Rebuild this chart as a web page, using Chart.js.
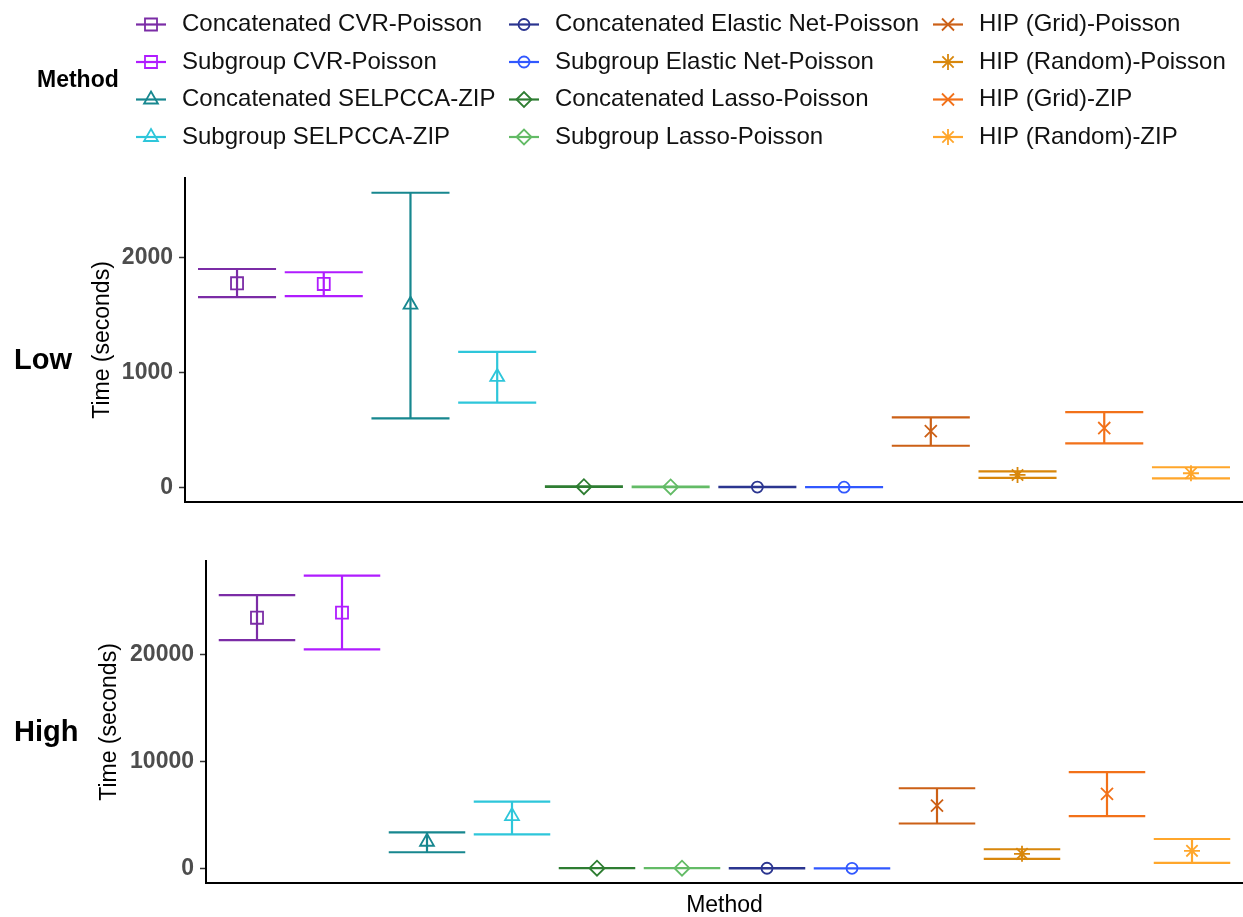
<!DOCTYPE html>
<html>
<head>
<meta charset="utf-8">
<title>Computation time by method</title>
<script src="https://cdn.jsdelivr.net/npm/chart.js@4.4.1/dist/chart.umd.min.js"></script>
<style>
  body { margin: 0; background: #fff; overflow: hidden; }
  #wrap { position: relative; width: 1243px; height: 917px; }
  canvas { position: absolute; left: 0; }
  #low { top: 0; }
  #high { top: 530px; }
</style>
</head>
<body>
<div id="wrap">
  <canvas id="low" width="1243" height="530"></canvas>
  <canvas id="high" width="1243" height="387"></canvas>
</div>
<script>
// methods in the order they sit along the x axis
const methods = [
  'Concatenated CVR-Poisson',
  'Subgroup CVR-Poisson',
  'Concatenated SELPCCA-ZIP',
  'Subgroup SELPCCA-ZIP',
  'Concatenated Lasso-Poisson',
  'Subgroup Lasso-Poisson',
  'Concatenated Elastic Net-Poisson',
  'Subgroup Elastic Net-Poisson',
  'HIP (Grid)-Poisson',
  'HIP (Random)-Poisson',
  'HIP (Grid)-ZIP',
  'HIP (Random)-ZIP'
]

// legend reads column by column in this order
const legendOrder = [
  'Concatenated CVR-Poisson',
  'Subgroup CVR-Poisson',
  'Concatenated SELPCCA-ZIP',
  'Subgroup SELPCCA-ZIP',
  'Concatenated Elastic Net-Poisson',
  'Subgroup Elastic Net-Poisson',
  'Concatenated Lasso-Poisson',
  'Subgroup Lasso-Poisson',
  'HIP (Grid)-Poisson',
  'HIP (Random)-Poisson',
  'HIP (Grid)-ZIP',
  'HIP (Random)-ZIP'
]

// time in seconds, low dimension
const lowMean = [1776, 1770, 1590, 962, 8, 6, 5, 4, 491, 110, 518, 125]
const lowLower = [1656, 1665, 602, 738, 6, 4, 3, 3, 364, 85, 384, 81]
const lowUpper = [1900, 1872, 2563, 1180, 10, 8, 7, 5, 610, 142, 657, 177]

// time in seconds, high dimension
const highMean = [23470, 23940, 2500, 4900, 30, 25, 20, 15, 5890, 1370, 6980, 1650]
const highLower = [21370, 20500, 1520, 3195, 25, 20, 15, 10, 4210, 900, 4900, 530]
const highUpper = [25580, 27410, 3380, 6260, 35, 30, 25, 20, 7510, 1800, 9020, 2760]

const lowTicks = [0, 1000, 2000]
const highTicks = [0, 10000, 20000]

const colors = [
  '#7b2ca6', '#b01cff', '#17878f', '#2ec6da',
  '#2e7d32', '#63bb66', '#2b3590', '#3158ff',
  '#cc6016', '#d8870c', '#f27119', '#ffa62b'
]
const shapes = [
  'rect', 'rect', 'triangle', 'triangle',
  'rectRot', 'rectRot', 'circle', 'circle',
  'crossRot', 'star', 'crossRot', 'star'
]
const shapeSize = { rect: 8.5, triangle: 8, rectRot: 7.5, circle: 5.5, crossRot: 8.5, star: 8 }

const FONT = '"Liberation Sans", Arial, Helvetica, sans-serif'
Chart.defaults.font.family = FONT
const capWidth = 0.9

const errorBars = {
  id: 'errorBars',
  beforeDatasetsDraw(chart) {
    const { ctx, scales: { x, y } } = chart
    ctx.save()
    ctx.lineWidth = 2.2
    chart.data.datasets.forEach(ds => {
      ds.data.forEach(p => {
        const cx = x.getPixelForValue(p.x)
        const x0 = x.getPixelForValue(p.x - capWidth / 2)
        const x1 = x.getPixelForValue(p.x + capWidth / 2)
        const yTop = y.getPixelForValue(p.yMax)
        const yBot = y.getPixelForValue(p.yMin)
        ctx.strokeStyle = ds.borderColor
        ctx.beginPath()
        ctx.moveTo(x0, yTop)
        ctx.lineTo(x1, yTop)
        ctx.moveTo(cx, yTop)
        ctx.lineTo(cx, yBot)
        ctx.moveTo(x0, yBot)
        ctx.lineTo(x1, yBot)
        ctx.stroke()
      })
    })
    ctx.restore()
  }
}

const panelLabel = {
  id: 'panelLabel',
  afterDraw(chart, args, opts) {
    const ctx = chart.ctx
    ctx.save()
    ctx.fillStyle = '#000'
    ctx.font = 'bold 29px ' + FONT
    ctx.textAlign = 'left'
    ctx.textBaseline = 'alphabetic'
    ctx.fillText(opts.text, opts.x, opts.y)
    ctx.restore()
  }
}

// three-column legend above the top panel
const methodLegend = {
  id: 'methodLegend',
  afterDraw(chart) {
    const ctx = chart.ctx
    const keyX = [151, 524, 948]
    const textX = [182, 555, 979]
    const rowY = [24.5, 62, 99.5, 137]
    ctx.save()
    ctx.fillStyle = '#000'
    ctx.font = 'bold 23px ' + FONT
    ctx.textBaseline = 'middle'
    ctx.fillText('Method', 37, 81)
    legendOrder.forEach((name, k) => {
      const i = methods.indexOf(name)
      const col = Math.floor(k / 4)
      const row = k % 4
      const cx = keyX[col]
      const cy = rowY[row]
      ctx.strokeStyle = colors[i]
      ctx.lineWidth = 2.2
      ctx.beginPath()
      ctx.moveTo(cx - 15, cy)
      ctx.lineTo(cx + 15, cy)
      ctx.stroke()
      ctx.fillStyle = 'rgba(0,0,0,0)'
      ctx.lineWidth = 1.8
      Chart.helpers.drawPoint(ctx, {
        pointStyle: shapes[i],
        rotation: 0,
        radius: shapeSize[shapes[i]],
        borderWidth: 1.8
      }, cx, cy)
      ctx.fillStyle = '#111'
      ctx.font = '24px ' + FONT
      ctx.fillText(name, textX[col], cy)
    })
    ctx.restore()
  }
}

function buildDatasets(mean, lower, upper) {
  return methods.map((m, i) => ({
    label: m,
    data: [{ x: i + 1, y: mean[i], yMin: lower[i], yMax: upper[i] }],
    pointStyle: shapes[i],
    pointRadius: shapeSize[shapes[i]],
    pointBorderWidth: 1.8,
    borderColor: colors[i],
    backgroundColor: 'rgba(0,0,0,0)',
    showLine: false
  }))
}

function makeChart(id, mean, lower, upper, ticks, cfg) {
  // 5% padding on each side of the data range
  const lo = Math.min(...lower, ...mean)
  const hi = Math.max(...upper, ...mean)
  const pad = (hi - lo) * 0.05
  const plugins = [errorBars, panelLabel]
  if (cfg.legend) plugins.push(methodLegend)

  return new Chart(document.getElementById(id), {
    type: 'scatter',
    data: { datasets: buildDatasets(mean, lower, upper) },
    plugins,
    options: {
      responsive: false,
      animation: false,
      events: [],
      layout: {
        autoPadding: false,
        padding: { left: cfg.left, top: cfg.top, right: 0, bottom: 0 }
      },
      plugins: {
        legend: { display: false },
        tooltip: { enabled: false },
        panelLabel: cfg.label
      },
      scales: {
        x: {
          type: 'linear',
          min: 0.4,
          max: 12.6,
          grid: { display: false },
          ticks: { display: false },
          border: { display: true, color: '#000', width: 2 },
          title: {
            display: cfg.xTitle,
            text: 'Method',
            color: '#000',
            font: { size: 23 },
            padding: { top: 0, bottom: -2 }
          },
          afterFit: s => { s.height = cfg.xHeight }
        },
        y: {
          min: lo - pad,
          max: hi + pad,
          afterBuildTicks: s => { s.ticks = ticks.map(v => ({ value: v })) },
          grid: {
            display: true,
            drawOnChartArea: false,
            drawTicks: true,
            tickLength: 6,
            tickColor: '#333',
            tickWidth: 1.5
          },
          border: { display: true, color: '#000', width: 2 },
          ticks: {
            color: '#4d4d4d',
            padding: 6,
            font: { size: 23, weight: 'bold' },
            callback: v => String(v)
          },
          title: {
            display: true,
            text: 'Time (seconds)',
            color: '#000',
            font: { size: 23 },
            padding: 0
          },
          afterFit: s => { s.width = cfg.yWidth }
        }
      }
    }
  })
}

makeChart('low', lowMean, lowLower, lowUpper, lowTicks, {
  left: 89, yWidth: 96, top: 178, xHeight: 28, xTitle: false, legend: true,
  label: { text: 'Low', x: 14, y: 369 }
})

makeChart('high', highMean, highLower, highUpper, highTicks, {
  left: 96, yWidth: 110, top: 31, xHeight: 34, xTitle: true, legend: false,
  label: { text: 'High', x: 14, y: 211 }
})
</script>
</body>
</html>
